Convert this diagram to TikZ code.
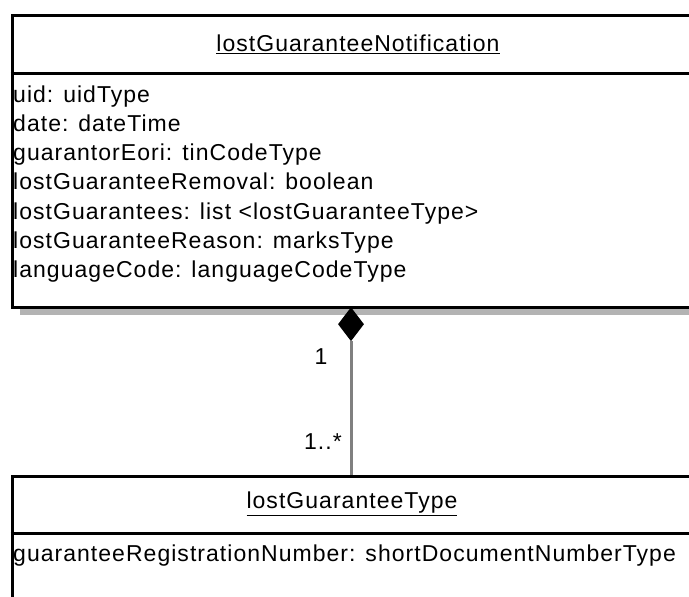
\documentclass[tikz,border=0pt]{standalone}
\usepackage{fontspec}
\setmainfont{Liberation Sans}[LetterSpace=4.5]
\usetikzlibrary{shapes.geometric}
\definecolor{shadowgray}{RGB}{179,179,179}
\definecolor{conngray}{RGB}{128,128,128}
\tikzset{
  umlbox/.style={draw=black, line width=3pt, fill=white, inner sep=0pt, anchor=north west},
  shadowbox/.style={fill=shadowgray, draw=none, inner sep=0pt, anchor=north west},
  divider/.style={draw=black, line width=3pt},
  attr/.style={anchor=base west, inner sep=0pt, font=\fontsize{23}{27}\selectfont},
  title/.style={anchor=center, inner sep=0pt, font=\fontsize{23}{27}\selectfont},
  mult/.style={anchor=center, inner sep=0pt, font=\fontsize{23}{27}\selectfont},
  compdiamond/.style={diamond, fill=black, draw=none, inner sep=0pt, minimum width=26pt, minimum height=34pt, anchor=north},
  conn/.style={draw=conngray, line width=3pt}
}
\begin{document}
\begin{tikzpicture}[x=1pt,y=-1pt]
\useasboundingbox (0,0) rectangle (689,597);
\clip (0,0) rectangle (689,597);
\fill[white] (0,0) rectangle (689,597);
% shadow of the upper class
\node[shadowbox, minimum width=694.5pt, minimum height=292pt] (shadow1) at (19.5,23) {};
% upper class
\node[umlbox, minimum width=694.5pt, minimum height=292pt] (cls1) at (10.5,14) {};
\coordinate (d1l) at (10.5,73);
\coordinate (d1r) at (705,73);
\draw[divider] (d1l) -- (d1r);
\node[title] (t1) at (358,44) {\underline{lostGuaranteeNotification}};
\node[attr] (a1) at (13,102) {uid: uidType};
\node[attr] (a2) at (13,131) {date: dateTime};
\node[attr] (a3) at (13,160) {guarantorEori: tinCodeType};
\node[attr] (a4) at (13,189.5) {lostGuaranteeRemoval: boolean};
\node[attr] (a5) at (13,219) {lostGuarantees: list <lostGuaranteeType>};
\node[attr] (a6) at (13,248) {lostGuaranteeReason: marksType};
\node[attr] (a7) at (13,277) {languageCode: languageCodeType};
% lower class
\node[umlbox, minimum width=694.5pt, minimum height=200pt] (cls2) at (10.5,475) {};
\coordinate (d2l) at (10.5,533);
\coordinate (d2r) at (705,533);
\draw[divider] (d2l) -- (d2r);
\node[title] (t2) at (352,504) {\underline{lostGuaranteeType}};
\node[attr] (b1) at (13,561) {guaranteeRegistrationNumber: shortDocumentNumberType};
% composition
\node[compdiamond] (dia) at (351,307) {};
\draw[conn] (dia.south) -- (dia.south |- cls2.north);
\node[mult] (m1) at (321,357) {1};
\node[mult] (m2) at (323,442) {1..*};
\end{tikzpicture}
\end{document}
